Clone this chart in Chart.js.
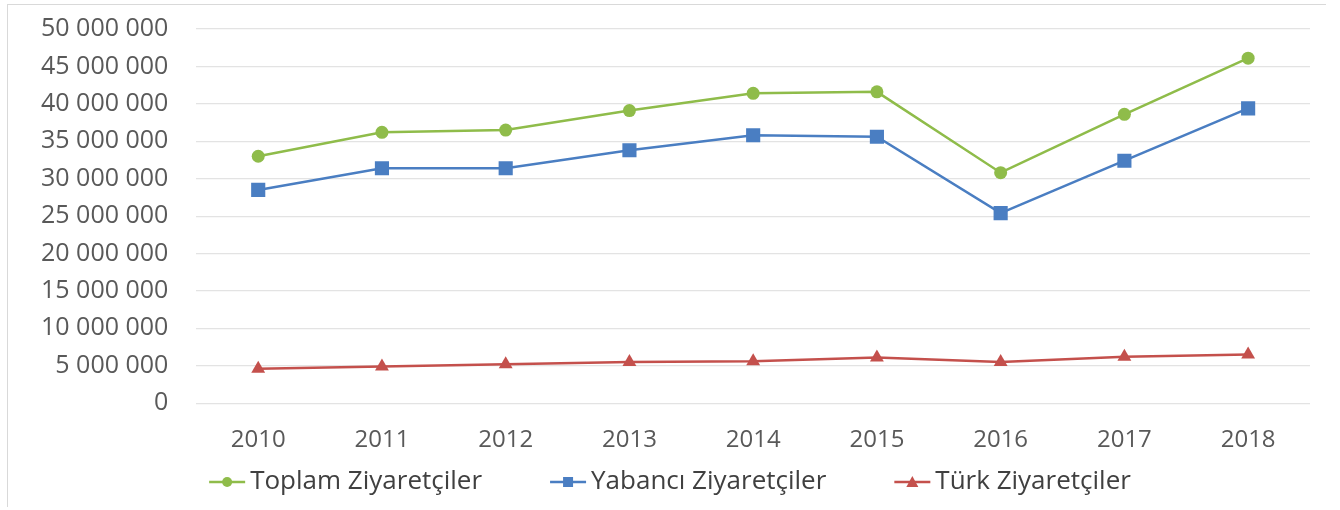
<!DOCTYPE html>
<html>
<head>
  <title>Ziyaretçiler</title>
  <script src="https://cdn.jsdelivr.net/npm/chart.js"></script>
  <style>
    body { margin: 0; background: #fff; }
    #wrap { position: absolute; left: 7px; top: 4px; width: 1318px; height: 502px; border-left: 1px solid #d9d9d9; border-top: 1px solid #d9d9d9; }
    #chart { position: absolute; left: -8px; top: -5px; }
  </style>
</head>
<body>
  <div id="wrap"><canvas id="chart" width="1340" height="510"></canvas></div>

  <script>
    var years = ['2010', '2011', '2012', '2013', '2014', '2015', '2016', '2017', '2018'];
    var toplam = [33000000, 36200000, 36500000, 39100000, 41400000, 41600000, 30800000, 38600000, 46100000];
    var yabanci = [28500000, 31400000, 31400000, 33800000, 35800000, 35600000, 25400000, 32400000, 39400000];
    var turk = [4600000, 4900000, 5200000, 5500000, 5600000, 6100000, 5500000, 6200000, 6500000];
    var seriesNames = ['Toplam Ziyaretçiler', 'Yabancı Ziyaretçiler', 'Türk Ziyaretçiler'];
    var colors = ['#8fbc4a', '#4a7ec2', '#c4504c'];
    var markers = ['circle', 'rect', 'triangle'];
    var markerSizes = [6.5, 10, 8];

    function fmt(v) {
      return String(v).replace(/\B(?=(\d{3})+(?!\d))/g, ' ');
    }

    function drawMarker(ctx, style, x, y, r) {
      ctx.beginPath();
      if (style == 'circle') {
        ctx.arc(x, y, r, 0, Math.PI * 2);
      } else if (style == 'rect') {
        ctx.rect(x - r, y - r, r * 2, r * 2);
      } else {
        ctx.moveTo(x, y - r - 1); ctx.lineTo(x + r + 1, y + r); ctx.lineTo(x - r - 1, y + r); ctx.closePath();
      }
      ctx.fill();
    }

    // bottom legend drawn by hand: line with marker, then label
    var lineLegend = {
      id: 'lineLegend',
      afterDraw: function(chart) {
        var ctx = chart.ctx;
        var ds = chart.data.datasets;
        var iconW = 36, textGap = 5, itemGap = 68, y = 482;
        ctx.save();
        ctx.font = '26px "Open Sans"';
        var widths = [], total = 0;
        for (var i = 0; i < ds.length; i++) {
          widths.push(ctx.measureText(ds[i].label).width);
          total += iconW + textGap + widths[i];
        }
        total += itemGap * (ds.length - 1);
        var x = chart.width / 2 - total / 2;
        for (var j = 0; j < ds.length; j++) {
          ctx.strokeStyle = ds[j].borderColor;
          ctx.fillStyle = ds[j].borderColor;
          ctx.lineWidth = 2.5;
          ctx.beginPath();
          ctx.moveTo(x, y); ctx.lineTo(x + iconW, y);
          ctx.stroke();
          drawMarker(ctx, markers[j], x + iconW / 2, y, 5);
          ctx.fillStyle = '#404040';
          ctx.textBaseline = 'middle';
          ctx.fillText(ds[j].label, x + iconW + textGap, y);
          x += iconW + textGap + widths[j] + itemGap;
        }
        ctx.restore();
      }
    };

    var values = [toplam, yabanci, turk];
    var datasets = [];
    for (var i = 0; i < 3; i++) {
      datasets.push({
        label: seriesNames[i],
        data: values[i],
        borderColor: colors[i],
        backgroundColor: colors[i],
        borderWidth: 2.5,
        pointStyle: markers[i],
        pointRadius: markerSizes[i],
        pointBorderWidth: 0,
        tension: 0
      });
    }

    new Chart(document.getElementById('chart'), {
      type: 'line',
      data: { labels: years, datasets: datasets },
      plugins: [lineLegend],
      options: {
        responsive: false,
        animation: false,
        layout: { padding: { left: 37, right: 30, top: 29, bottom: 40 } },
        scales: {
          x: {
            offset: true,
            grid: { display: false },
            border: { display: false },
            ticks: { color: '#595959', font: { family: 'Open Sans', size: 24 }, padding: 15 }
          },
          y: {
            min: 0,
            max: 50000000,
            grid: { color: '#e3e3e3', lineWidth: 1.2, drawTicks: true, tickLength: 24, tickColor: 'rgba(0,0,0,0)' },
            border: { display: false },
            ticks: {
              stepSize: 5000000,
              color: '#595959',
              font: { family: 'Open Sans', size: 25 },
              padding: 4,
              callback: function(v) { return fmt(v); }
            }
          }
        },
        plugins: {
          tooltip: { enabled: false },
          legend: { display: false }
        }
      }
    });
  </script>
</body>
</html>
